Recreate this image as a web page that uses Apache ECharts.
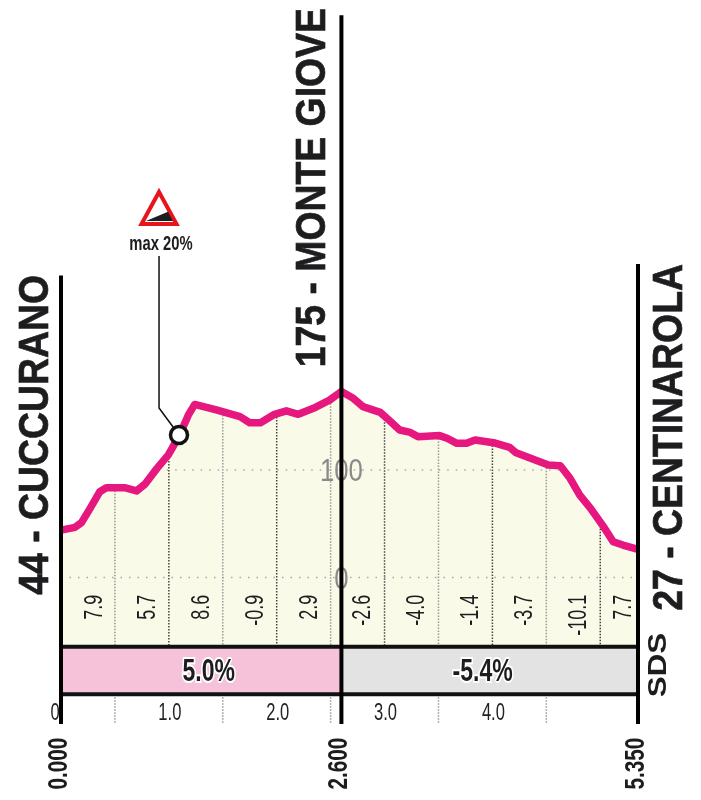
<!DOCTYPE html>
<html><head><meta charset="utf-8">
<style>html,body{margin:0;padding:0;background:#fff}#c{width:701px;height:800px}</style>
<script src="https://cdn.jsdelivr.net/npm/echarts@6/dist/echarts.min.js"></script>
</head><body><div id="c"></div>
<script>
// profile
const profileKm = [0,0.13,0.19,0.27,0.36,0.42,0.59,0.70,0.78,0.89,0.995,1.10,1.18,1.24,1.44,1.66,1.75,1.85,1.98,2.09,2.20,2.34,2.49,2.60,2.71,2.80,2.96,3.04,3.14,3.23,3.31,3.51,3.58,3.67,3.76,3.84,4.01,4.16,4.22,4.44,4.52,4.63,4.72,4.81,4.91,5.03,5.12,5.21,5.35];
const profileEle = [44,46.7,51,64.3,79.8,83.5,83.5,80.5,87,101.5,114,132.5,151,161,156,149.6,144,144,151.8,155,151.8,157.4,165,173,166.7,158.9,153.6,146.5,137.2,135.3,131,132,129.5,124.8,124.8,127.9,125.4,121,116,107.7,104.7,104,92.3,76.7,64.3,47.3,33.3,30.2,26.2];
// dotted gridlines
const majorKm = [1,2,3,4,5];
const majorTop = [114,152,150,125.5,51];
const minorKm = [0.5,1.5,2.5,3.5,4.5];
const minorTop = [83.5,154,165,132,105];
// tick labels
const kmTicks = [1,2,3,4];
const kmTickLabels = ['1.0','2.0','3.0','4.0'];
const eleTicks = [100,0];
const eleTickLabels = ['100','0'];
// slope labels
const slopeKm = [0.26,0.75,1.25,1.75,2.25,2.75,3.25,3.75,4.25,4.75,5.17];
const slopeVal = ['7.9','5.7','8.6','-0.9','2.9','-2.6','-4.0','-1.4','-3.7','-10.1','7.7'];
// sections
const sectionStart = [0,2.6];
const sectionEnd = [2.6,5.35];
const sectionLabelKm = [1.37,3.91];
const sectionGrade = ['5.0%','-5.4%'];
const sectionColor = ['#f5c2da','#e3e3e3'];
// waypoints
const wayKm = [0,2.6,5.35];
const wayTop = [281,523,291.6];
const wayLabel = ['0.000','2.600','5.350'];
const placeNames = ['44 - CUCCURANO','175 - MONTE GIOVE','27 - CENTINAROLA'];
// max-grade marker
const markerKm = [0.909,0.909,1.094];
const markerEle = [299,157.7,132.6];

const FLOOR=-64.4, BAND=-108.6, BASE=-136.3;
const SANS='"Liberation Sans"';
const DARK='#1d1d1f';

function linesSeries(name,rows,style,z){
  return {type:'custom',name,z,silent:true,clip:false,
    data:rows,encode:{x:[0,2],y:[1,3]},
    renderItem(p,api){
      const a=api.coord([api.value(0),api.value(1)]),b=api.coord([api.value(2),api.value(3)]);
      return {type:'line',shape:{x1:a[0],y1:a[1],x2:b[0],y2:b[1]},style};
    }};
}
// condensed text: no narrow face is installed, so the label is squeezed horizontally
function textSeries(name,rows,texts,o){
  return {type:'custom',name,z:o.z||8,silent:true,clip:false,
    data:rows.map((r,i)=>[r[0],r[1],i]),encode:{x:0,y:1},
    renderItem(p,api){
      const c=api.coord([api.value(0),api.value(1)]);
      return {type:'text',x:c[0]+(o.dx||0),y:c[1]+(o.dy||0),rotation:o.rot?Math.PI/2:0,scaleX:o.scale||1,
        style:{text:texts[api.value(2)],font:o.font,fill:o.fill||DARK,textAlign:o.align||'center',textVerticalAlign:'middle',
          stroke:o.stroke,lineWidth:o.lw}};
    }};
}
const major=majorKm.map((k,i)=>[k,majorTop[i],k,FLOOR]);
const minor=minorKm.map((k,i)=>[k,minorTop[i],k,FLOOR]).concat(minorKm.map(k=>[k,BAND,k,BASE]));
const zeroLines=[[0,0,5.35,0],[0.98,100,4.62,100]];
const profile=profileKm.map((k,i)=>[k,profileEle[i]]);
const nameStyle=(t,x,y)=>({type:'text',x,y,rotation:Math.PI/2,scaleX:.89,z:20,
  style:{text:t,textAlign:'right',textVerticalAlign:'middle',font:'bold 42px '+SANS,fill:DARK,stroke:DARK,lineWidth:.7}});

const option={
  animation:false,
  grid:{left:61,top:40,width:577,height:752.5},
  xAxis:{type:'value',min:0,max:5.35,interval:1,show:false},
  yAxis:{type:'value',min:-200,max:500,interval:100,show:false},
  graphic:[
    nameStyle(placeNames[0],36,275),
    nameStyle(placeNames[1],313,8),
    nameStyle(placeNames[2],670,264),
    {type:'text',x:659,y:665,rotation:Math.PI/2,scaleX:1.25,z:20,style:{text:'SDS',textAlign:'center',textVerticalAlign:'middle',font:'bold 25px '+SANS,fill:DARK}},
    {type:'polygon',z:20,shape:{points:[[159,192],[141.5,224],[176.5,224]]},style:{fill:'#fff',stroke:'#e8141c',lineWidth:4,lineJoin:'miter'}},
    {type:'polygon',z:21,shape:{points:[[146,221],[168,211.7],[173,221]]},style:{fill:DARK}},
    {type:'text',x:161,y:244,scaleX:.74,z:20,style:{text:'max 20%',textAlign:'center',textVerticalAlign:'middle',font:'bold 20px '+SANS,fill:DARK}}
  ],
  series:[
    {type:'line',name:'fill',z:2,data:profile,symbol:'none',lineStyle:{width:0},
      areaStyle:{color:'#fafae8',opacity:1,origin:FLOOR}},
    linesSeries('major',major,{stroke:'#444',lineWidth:1.5,lineDash:[1.5,1.5]},3),
    linesSeries('minor',minor,{stroke:'#999',lineWidth:1.5,lineDash:[1.5,1.5]},3),
    linesSeries('levels',zeroLines,{stroke:'#aaa',lineWidth:1.5,lineDash:[1.5,7]},3),
    textSeries('eleTicks',eleTicks.map(v=>[2.6,v]),eleTickLabels,{font:'31px '+SANS,fill:'#8a8a8a',scale:.83,z:3.5,dy:2.5}),
    {type:'line',name:'profile',z:4,data:profile,symbol:'none',lineStyle:{color:'#e6177f',width:7.5,join:'round',cap:'butt'}},
    {type:'custom',name:'sections',z:5,silent:true,clip:false,
      data:sectionStart.map((s,i)=>[s,sectionEnd[i],FLOOR,BAND,i]),encode:{x:[0,1],y:[2,3]},
      renderItem(p,api){
        const a=api.coord([api.value(0),api.value(2)]),b=api.coord([api.value(1),api.value(3)]);
        return {type:'rect',shape:{x:a[0],y:a[1],width:b[0]-a[0],height:b[1]-a[1]},style:{fill:sectionColor[api.value(4)]}};
      }},
    linesSeries('bandEdges',[[0,FLOOR,5.35,FLOOR],[0,BAND,5.35,BAND]],{stroke:'#111',lineWidth:4},6),
    linesSeries('waypoints',wayKm.map((k,i)=>[k,wayTop[i],k,BASE]),{stroke:'#000',lineWidth:4},7),
    textSeries('sectionLabels',sectionLabelKm.map(k=>[k,(FLOOR+BAND)/2]),sectionGrade,{font:'bold 32px '+SANS,scale:.72,stroke:'#fff',lw:4,dy:2}),
    textSeries('slopes',slopeKm.map(k=>[k,-16]),slopeVal,{font:'25px '+SANS,scale:.72,rot:1,align:'right',dx:6}),
    textSeries('kmTicks',kmTicks.map(k=>[k,-124.5]),kmTickLabels,{font:'23px '+SANS,scale:.72,fill:'#222',dx:1,dy:2}),
    textSeries('kmZero',[[0,-124.5]],['0'],{font:'23px '+SANS,scale:.72,fill:'#222',dx:-6,dy:2}),
    textSeries('wayLabels',wayKm.map(k=>[k,-149]),wayLabel,{font:'bold 28px '+SANS,scale:.74,rot:1,align:'right',dx:-2}),
    {type:'line',name:'leader',z:9,clip:false,silent:true,symbol:'none',data:markerKm.map((k,i)=>[k,markerEle[i]]),
      lineStyle:{color:'#111',width:1.5}},
    {type:'scatter',name:'marker',z:10,silent:true,symbol:'circle',symbolSize:17,data:[[markerKm[2],markerEle[2]]],
      itemStyle:{color:'#fff',borderColor:'#111',borderWidth:3.5,opacity:1}}
  ]
};
echarts.init(document.getElementById('c')).setOption(option);
</script></body></html>
